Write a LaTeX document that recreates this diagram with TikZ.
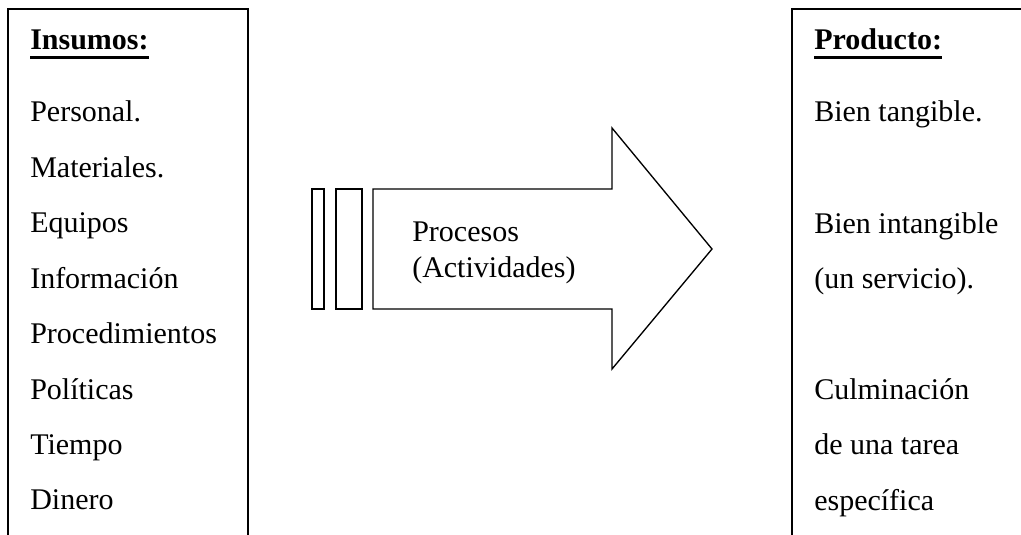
\documentclass[tikz,border=0pt]{standalone}
\usepackage{fontspec}
\setmainfont{Liberation Serif}
\begin{document}
\begin{tikzpicture}[x=0.75pt,y=-0.75pt,
  item/.style={inner sep=0pt,anchor=base west,font=\fontsize{22.5}{27}\selectfont},
  head/.style={item,font=\fontsize{22.5}{27}\selectfont\bfseries},
  frame/.style={line width=1.5pt},
  outline/.style={line width=1pt,line join=miter}]
\useasboundingbox (0,0) rectangle (1021,535);
\clip (0,0) rectangle (1021,535);
\fill[white] (0,0) rectangle (1021,535);

% input and output frames, open past the lower edge
\draw[frame] (8,560) -- (8,9) -- (248,9) -- (248,560);
\draw[frame] (792,560) -- (792,9) -- (1040,9) -- (1040,560);

% inputs
\node[head] (ins) at (30,50) {Insumos:};
\draw[line width=2pt] ([yshift=-5.5pt]ins.base west) -- ([yshift=-5.5pt]ins.base east);
\foreach \t [count=\i from 0] in {Personal.,Materiales.,Equipos,Información,Procedimientos,Políticas,Tiempo,Dinero}
  \node[item] (in\i) at (30,{122+55.4*\i}) {\t};

% outputs
\node[head] (prod) at (814,50) {Producto:};
\draw[line width=2pt] ([yshift=-5.5pt]prod.base west) -- ([yshift=-5.5pt]prod.base east);
\node[item] (o1) at (814,122) {Bien tangible.};
\node[item] (o2) at (814,233) {Bien intangible};
\node[item] (o3) at (814,288) {(un servicio).};
\node[item] (o4) at (814,399) {Culminación};
\node[item] (o5) at (814,454) {de una tarea};
\node[item] (o6) at (814,510) {específica};

% process arrow with its two trailing bars
\draw[outline] (312,189) rectangle (324,309);
\draw[outline] (336,189) rectangle (362,309);
\draw[outline] (373,189) -- (612,189) -- (612,128) -- (712,249) -- (612,369) -- (612,309) -- (373,309) -- cycle;
\node[item] (p1) at (412,241) {Procesos};
\node[item] (p2) at (412,277) {(Actividades)};
\end{tikzpicture}
\end{document}
